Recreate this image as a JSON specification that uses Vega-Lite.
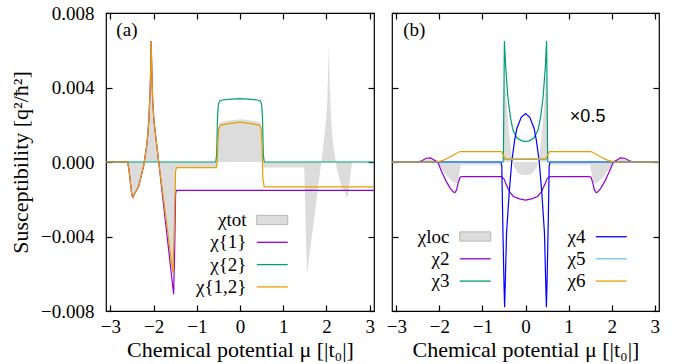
{
  "$schema": "https://vega.github.io/schema/vega-lite/v6.json",
  "autosize": {"type": "none"},
  "padding": {"left": 106, "top": 13, "right": 573, "bottom": 351},
  "spacing": 18,
  "bounds": "flush",
  "background": "white",
  "datasets": {
    "a_tot": [
      {"x": -3.1, "y": 0}, {"x": -2.6, "y": 0}, {"x": -2.57, "y": -0.0004}, {"x": -2.53, "y": -0.0012}, {"x": -2.5, "y": -0.0018}, {"x": -2.475, "y": -0.0019},
      {"x": -2.44, "y": -0.0017}, {"x": -2.39, "y": -0.0015}, {"x": -2.344, "y": -0.0013}, {"x": -2.29, "y": -0.0008}, {"x": -2.228, "y": -0.0002}, {"x": -2.19, "y": 0.0004},
      {"x": -2.151, "y": 0.001}, {"x": -2.125, "y": 0.0017}, {"x": -2.105, "y": 0.00245}, {"x": -2.085, "y": 0.0035}, {"x": -2.074, "y": 0.0042}, {"x": -2.065, "y": 0.0052},
      {"x": -2.057, "y": 0.0065}, {"x": -2.04, "y": 0.005}, {"x": -2.02, "y": 0.0033}, {"x": -1.99, "y": 0.0022}, {"x": -1.958, "y": 0.00155}, {"x": -1.88, "y": 0},
      {"x": -1.8, "y": -0.0015}, {"x": -1.7, "y": -0.0033}, {"x": -1.6, "y": -0.0051}, {"x": -1.55, "y": -0.006}, {"x": -1.52, "y": -0.0035}, {"x": -1.49, "y": -0.0005},
      {"x": -1.47, "y": -0.0003}, {"x": -0.55, "y": -0.0003}, {"x": -0.53, "y": 0}, {"x": -0.51, "y": 0.0013}, {"x": -0.49, "y": 0.002}, {"x": -0.45, "y": 0.00215},
      {"x": -0.3, "y": 0.00222}, {"x": 0, "y": 0.0023}, {"x": 0.3, "y": 0.00222}, {"x": 0.45, "y": 0.00215}, {"x": 0.49, "y": 0.002}, {"x": 0.51, "y": 0.0013},
      {"x": 0.53, "y": 0}, {"x": 0.55, "y": -0.0003}, {"x": 1.47, "y": -0.0003}, {"x": 1.49, "y": -0.0005}, {"x": 1.52, "y": -0.0035}, {"x": 1.55, "y": -0.006},
      {"x": 1.6, "y": -0.0051}, {"x": 1.7, "y": -0.0033}, {"x": 1.8, "y": -0.0015}, {"x": 1.88, "y": 0}, {"x": 1.958, "y": 0.00155}, {"x": 1.99, "y": 0.0022},
      {"x": 2.02, "y": 0.0033}, {"x": 2.04, "y": 0.005}, {"x": 2.057, "y": 0.0065}, {"x": 2.065, "y": 0.0052}, {"x": 2.074, "y": 0.0042}, {"x": 2.085, "y": 0.0035},
      {"x": 2.105, "y": 0.00245}, {"x": 2.125, "y": 0.0017}, {"x": 2.151, "y": 0.001}, {"x": 2.19, "y": 0.0004}, {"x": 2.228, "y": -0.0002}, {"x": 2.29, "y": -0.0008},
      {"x": 2.344, "y": -0.0013}, {"x": 2.39, "y": -0.0015}, {"x": 2.44, "y": -0.0017}, {"x": 2.475, "y": -0.0019}, {"x": 2.5, "y": -0.0018}, {"x": 2.53, "y": -0.0012},
      {"x": 2.57, "y": -0.0004}, {"x": 2.6, "y": 0}, {"x": 3.1, "y": 0}
    ],
    "a_lines": [
      {"series": "χ{1}", "x": -3.1, "y": 0}, {"series": "χ{1}", "x": -2.6, "y": 0}, {"series": "χ{1}", "x": -2.57, "y": -0.0004}, {"series": "χ{1}", "x": -2.53, "y": -0.0012},
      {"series": "χ{1}", "x": -2.5, "y": -0.0018}, {"series": "χ{1}", "x": -2.475, "y": -0.0019}, {"series": "χ{1}", "x": -2.44, "y": -0.0017}, {"series": "χ{1}", "x": -2.39, "y": -0.0015},
      {"series": "χ{1}", "x": -2.344, "y": -0.0013}, {"series": "χ{1}", "x": -2.29, "y": -0.0008}, {"series": "χ{1}", "x": -2.228, "y": -0.0002}, {"series": "χ{1}", "x": -2.19, "y": 0.0004},
      {"series": "χ{1}", "x": -2.151, "y": 0.001}, {"series": "χ{1}", "x": -2.125, "y": 0.0017}, {"series": "χ{1}", "x": -2.105, "y": 0.00245}, {"series": "χ{1}", "x": -2.085, "y": 0.0035},
      {"series": "χ{1}", "x": -2.074, "y": 0.0042}, {"series": "χ{1}", "x": -2.065, "y": 0.0052}, {"series": "χ{1}", "x": -2.057, "y": 0.0065}, {"series": "χ{1}", "x": -2.04, "y": 0.005},
      {"series": "χ{1}", "x": -2.02, "y": 0.0033}, {"series": "χ{1}", "x": -1.99, "y": 0.0022}, {"series": "χ{1}", "x": -1.958, "y": 0.00155}, {"series": "χ{1}", "x": -1.88, "y": 0},
      {"series": "χ{1}", "x": -1.8, "y": -0.00165}, {"series": "χ{1}", "x": -1.7, "y": -0.0037}, {"series": "χ{1}", "x": -1.6, "y": -0.00576}, {"series": "χ{1}", "x": -1.535, "y": -0.0071},
      {"series": "χ{1}", "x": -1.51, "y": -0.0045}, {"series": "χ{1}", "x": -1.49, "y": -0.0017}, {"series": "χ{1}", "x": -1.47, "y": -0.00152}, {"series": "χ{1}", "x": 3.1, "y": -0.00152},
      {"series": "χ{2}", "x": -3.1, "y": 0}, {"series": "χ{2}", "x": -0.56, "y": 0}, {"series": "χ{2}", "x": -0.54, "y": 0.0004}, {"series": "χ{2}", "x": -0.52, "y": 0.0024},
      {"series": "χ{2}", "x": -0.5, "y": 0.0031}, {"series": "χ{2}", "x": -0.47, "y": 0.00328}, {"series": "χ{2}", "x": -0.4, "y": 0.00333}, {"series": "χ{2}", "x": -0.2, "y": 0.00338},
      {"series": "χ{2}", "x": 0, "y": 0.0034}, {"series": "χ{2}", "x": 0.2, "y": 0.00338}, {"series": "χ{2}", "x": 0.4, "y": 0.00333}, {"series": "χ{2}", "x": 0.47, "y": 0.00328},
      {"series": "χ{2}", "x": 0.5, "y": 0.0031}, {"series": "χ{2}", "x": 0.52, "y": 0.0024}, {"series": "χ{2}", "x": 0.54, "y": 0.0004}, {"series": "χ{2}", "x": 0.56, "y": 0},
      {"series": "χ{2}", "x": 3.1, "y": 0},
      {"series": "χ{1,2}", "x": -3.1, "y": 0}, {"series": "χ{1,2}", "x": -2.6, "y": 0}, {"series": "χ{1,2}", "x": -2.57, "y": -0.0004}, {"series": "χ{1,2}", "x": -2.53, "y": -0.0012},
      {"series": "χ{1,2}", "x": -2.5, "y": -0.0018}, {"series": "χ{1,2}", "x": -2.475, "y": -0.0019}, {"series": "χ{1,2}", "x": -2.44, "y": -0.0017}, {"series": "χ{1,2}", "x": -2.39, "y": -0.0015},
      {"series": "χ{1,2}", "x": -2.344, "y": -0.0013}, {"series": "χ{1,2}", "x": -2.29, "y": -0.0008}, {"series": "χ{1,2}", "x": -2.228, "y": -0.0002}, {"series": "χ{1,2}", "x": -2.19, "y": 0.0004},
      {"series": "χ{1,2}", "x": -2.151, "y": 0.001}, {"series": "χ{1,2}", "x": -2.125, "y": 0.0017}, {"series": "χ{1,2}", "x": -2.105, "y": 0.00245}, {"series": "χ{1,2}", "x": -2.085, "y": 0.0035},
      {"series": "χ{1,2}", "x": -2.074, "y": 0.0042}, {"series": "χ{1,2}", "x": -2.065, "y": 0.0052}, {"series": "χ{1,2}", "x": -2.057, "y": 0.0065}, {"series": "χ{1,2}", "x": -2.04, "y": 0.005},
      {"series": "χ{1,2}", "x": -2.02, "y": 0.0033}, {"series": "χ{1,2}", "x": -1.99, "y": 0.0022}, {"series": "χ{1,2}", "x": -1.958, "y": 0.00155}, {"series": "χ{1,2}", "x": -1.88, "y": 0},
      {"series": "χ{1,2}", "x": -1.8, "y": -0.00144}, {"series": "χ{1,2}", "x": -1.7, "y": -0.00325}, {"series": "χ{1,2}", "x": -1.6, "y": -0.00505}, {"series": "χ{1,2}", "x": -1.55, "y": -0.00595},
      {"series": "χ{1,2}", "x": -1.52, "y": -0.0035}, {"series": "χ{1,2}", "x": -1.49, "y": -0.0005}, {"series": "χ{1,2}", "x": -1.47, "y": -0.0003}, {"series": "χ{1,2}", "x": -0.55, "y": -0.0003},
      {"series": "χ{1,2}", "x": -0.53, "y": -0.0001}, {"series": "χ{1,2}", "x": -0.51, "y": 0.0011}, {"series": "χ{1,2}", "x": -0.49, "y": 0.0018}, {"series": "χ{1,2}", "x": -0.45, "y": 0.00198},
      {"series": "χ{1,2}", "x": -0.3, "y": 0.00205}, {"series": "χ{1,2}", "x": 0, "y": 0.00214}, {"series": "χ{1,2}", "x": 0.3, "y": 0.00205}, {"series": "χ{1,2}", "x": 0.45, "y": 0.00198},
      {"series": "χ{1,2}", "x": 0.49, "y": 0.0018}, {"series": "χ{1,2}", "x": 0.51, "y": 0.0008}, {"series": "χ{1,2}", "x": 0.53, "y": -0.0009}, {"series": "χ{1,2}", "x": 0.56, "y": -0.00134},
      {"series": "χ{1,2}", "x": 3.1, "y": -0.00134}
    ],
    "b_loc": [
      {"x": -3.1, "y": 0}, {"x": -2.45, "y": 0}, {"x": -2.35, "y": 0.0001}, {"x": -2.25, "y": 0.00016}, {"x": -2.18, "y": 0.00012}, {"x": -2.1, "y": 0},
      {"x": -2.0, "y": -0.0002}, {"x": -1.9, "y": -0.0005}, {"x": -1.8, "y": -0.0008}, {"x": -1.7, "y": -0.00105}, {"x": -1.62, "y": -0.00115}, {"x": -1.57, "y": -0.0011},
      {"x": -1.53, "y": -0.0005}, {"x": -1.5, "y": -0.00015}, {"x": -0.55, "y": -0.00015}, {"x": -0.52, "y": 0.0008}, {"x": -0.5, "y": 0.0035}, {"x": -0.485, "y": 0.0046},
      {"x": -0.46, "y": 0.0038}, {"x": -0.42, "y": 0.0026}, {"x": -0.37, "y": 0.0013}, {"x": -0.32, "y": 0.0003}, {"x": -0.27, "y": -0.0002}, {"x": -0.2, "y": -0.0005},
      {"x": -0.1, "y": -0.00068}, {"x": 0, "y": -0.0007}, {"x": 0.1, "y": -0.00068}, {"x": 0.2, "y": -0.0005}, {"x": 0.27, "y": -0.0002}, {"x": 0.32, "y": 0.0003},
      {"x": 0.37, "y": 0.0013}, {"x": 0.42, "y": 0.0026}, {"x": 0.46, "y": 0.0038}, {"x": 0.485, "y": 0.0046}, {"x": 0.5, "y": 0.0035}, {"x": 0.52, "y": 0.0008},
      {"x": 0.55, "y": -0.00015}, {"x": 1.5, "y": -0.00015}, {"x": 1.53, "y": -0.0005}, {"x": 1.57, "y": -0.0011}, {"x": 1.62, "y": -0.00115}, {"x": 1.7, "y": -0.00105},
      {"x": 1.8, "y": -0.0008}, {"x": 1.9, "y": -0.0005}, {"x": 2.0, "y": -0.0002}, {"x": 2.1, "y": 0}, {"x": 2.18, "y": 0.00012}, {"x": 2.25, "y": 0.00016},
      {"x": 2.35, "y": 0.0001}, {"x": 2.45, "y": 0}, {"x": 3.1, "y": 0}
    ],
    "b_lines": [
      {"series": "χ2", "x": -3.1, "y": 0}, {"series": "χ2", "x": -2.5, "y": 0}, {"series": "χ2", "x": -2.4, "y": 0.00008}, {"series": "χ2", "x": -2.3, "y": 0.0002},
      {"series": "χ2", "x": -2.2, "y": 0.00022}, {"series": "χ2", "x": -2.12, "y": 0.0001}, {"series": "χ2", "x": -2.04, "y": 0}, {"series": "χ2", "x": -1.95, "y": -0.0005},
      {"series": "χ2", "x": -1.85, "y": -0.001}, {"series": "χ2", "x": -1.75, "y": -0.0014}, {"series": "χ2", "x": -1.68, "y": -0.0016}, {"series": "χ2", "x": -1.64, "y": -0.00165},
      {"series": "χ2", "x": -1.6, "y": -0.0015}, {"series": "χ2", "x": -1.56, "y": -0.0011}, {"series": "χ2", "x": -1.52, "y": -0.00082}, {"series": "χ2", "x": -1.48, "y": -0.00078},
      {"series": "χ2", "x": -0.56, "y": -0.00078}, {"series": "χ2", "x": -0.5, "y": -0.0009}, {"series": "χ2", "x": -0.45, "y": -0.0012}, {"series": "χ2", "x": -0.37, "y": -0.0016},
      {"series": "χ2", "x": -0.28, "y": -0.00185}, {"series": "χ2", "x": -0.14, "y": -0.00198}, {"series": "χ2", "x": 0, "y": -0.00205}, {"series": "χ2", "x": 0.14, "y": -0.00198},
      {"series": "χ2", "x": 0.28, "y": -0.00185}, {"series": "χ2", "x": 0.37, "y": -0.0016}, {"series": "χ2", "x": 0.45, "y": -0.0012}, {"series": "χ2", "x": 0.5, "y": -0.0009},
      {"series": "χ2", "x": 0.56, "y": -0.00078}, {"series": "χ2", "x": 1.48, "y": -0.00078}, {"series": "χ2", "x": 1.52, "y": -0.00082}, {"series": "χ2", "x": 1.56, "y": -0.0011},
      {"series": "χ2", "x": 1.6, "y": -0.0015}, {"series": "χ2", "x": 1.64, "y": -0.00165}, {"series": "χ2", "x": 1.68, "y": -0.0016}, {"series": "χ2", "x": 1.75, "y": -0.0014},
      {"series": "χ2", "x": 1.85, "y": -0.001}, {"series": "χ2", "x": 1.95, "y": -0.0005}, {"series": "χ2", "x": 2.04, "y": 0}, {"series": "χ2", "x": 2.12, "y": 0.0001},
      {"series": "χ2", "x": 2.2, "y": 0.00022}, {"series": "χ2", "x": 2.3, "y": 0.0002}, {"series": "χ2", "x": 2.4, "y": 0.00008}, {"series": "χ2", "x": 2.5, "y": 0},
      {"series": "χ2", "x": 3.1, "y": 0},
      {"series": "χ3", "x": -3.1, "y": 0}, {"series": "χ3", "x": -0.515, "y": 0}, {"series": "χ3", "x": -0.49, "y": 0.0065}, {"series": "χ3", "x": -0.46, "y": 0.0051},
      {"series": "χ3", "x": -0.41, "y": 0.0035}, {"series": "χ3", "x": -0.35, "y": 0.0024}, {"series": "χ3", "x": -0.29, "y": 0.0017}, {"series": "χ3", "x": -0.2, "y": 0.0013},
      {"series": "χ3", "x": -0.1, "y": 0.00115}, {"series": "χ3", "x": 0, "y": 0.0011}, {"series": "χ3", "x": 0.1, "y": 0.00115}, {"series": "χ3", "x": 0.2, "y": 0.0013},
      {"series": "χ3", "x": 0.29, "y": 0.0017}, {"series": "χ3", "x": 0.35, "y": 0.0024}, {"series": "χ3", "x": 0.41, "y": 0.0035}, {"series": "χ3", "x": 0.46, "y": 0.0051},
      {"series": "χ3", "x": 0.49, "y": 0.0065}, {"series": "χ3", "x": 0.515, "y": 0}, {"series": "χ3", "x": 3.1, "y": 0},
      {"series": "χ4", "x": -3.1, "y": 0}, {"series": "χ4", "x": -0.57, "y": 0}, {"series": "χ4", "x": -0.55, "y": -0.0002}, {"series": "χ4", "x": -0.53, "y": -0.003},
      {"series": "χ4", "x": -0.5, "y": -0.0065}, {"series": "χ4", "x": -0.485, "y": -0.0078}, {"series": "χ4", "x": -0.47, "y": -0.0065}, {"series": "χ4", "x": -0.44, "y": -0.0038},
      {"series": "χ4", "x": -0.38, "y": -0.0017}, {"series": "χ4", "x": -0.32, "y": 0}, {"series": "χ4", "x": -0.25, "y": 0.0012}, {"series": "χ4", "x": -0.2, "y": 0.0018},
      {"series": "χ4", "x": -0.1, "y": 0.0024}, {"series": "χ4", "x": 0, "y": 0.0026}, {"series": "χ4", "x": 0.1, "y": 0.0024}, {"series": "χ4", "x": 0.2, "y": 0.0018},
      {"series": "χ4", "x": 0.25, "y": 0.0012}, {"series": "χ4", "x": 0.32, "y": 0}, {"series": "χ4", "x": 0.38, "y": -0.0017}, {"series": "χ4", "x": 0.44, "y": -0.0038},
      {"series": "χ4", "x": 0.47, "y": -0.0065}, {"series": "χ4", "x": 0.485, "y": -0.0078}, {"series": "χ4", "x": 0.5, "y": -0.0065}, {"series": "χ4", "x": 0.53, "y": -0.003},
      {"series": "χ4", "x": 0.55, "y": -0.0002}, {"series": "χ4", "x": 0.57, "y": 0}, {"series": "χ4", "x": 3.1, "y": 0},
      {"series": "χ5", "x": -3.1, "y": 0}, {"series": "χ5", "x": -0.55, "y": 0}, {"series": "χ5", "x": -0.5, "y": 0.00012}, {"series": "χ5", "x": -0.45, "y": 0.00017},
      {"series": "χ5", "x": 0.45, "y": 0.00017}, {"series": "χ5", "x": 0.5, "y": 0.00012}, {"series": "χ5", "x": 0.55, "y": 0}, {"series": "χ5", "x": 3.1, "y": 0},
      {"series": "χ6", "x": -3.1, "y": 0}, {"series": "χ6", "x": -2.1, "y": 0}, {"series": "χ6", "x": -2.0, "y": 0.00003}, {"series": "χ6", "x": -1.9, "y": 0.0001},
      {"series": "χ6", "x": -1.8, "y": 0.00021}, {"series": "χ6", "x": -1.7, "y": 0.00034}, {"series": "χ6", "x": -1.6, "y": 0.00047}, {"series": "χ6", "x": -1.53, "y": 0.00055},
      {"series": "χ6", "x": -1.5, "y": 0.00056}, {"series": "χ6", "x": -0.56, "y": 0.00056}, {"series": "χ6", "x": -0.52, "y": 0.0004}, {"series": "χ6", "x": -0.48, "y": 0.0002},
      {"series": "χ6", "x": -0.45, "y": 0.00014}, {"series": "χ6", "x": 0.45, "y": 0.00014}, {"series": "χ6", "x": 0.48, "y": 0.0002}, {"series": "χ6", "x": 0.52, "y": 0.0004},
      {"series": "χ6", "x": 0.56, "y": 0.00056}, {"series": "χ6", "x": 1.5, "y": 0.00056}, {"series": "χ6", "x": 1.53, "y": 0.00055}, {"series": "χ6", "x": 1.6, "y": 0.00047},
      {"series": "χ6", "x": 1.7, "y": 0.00034}, {"series": "χ6", "x": 1.8, "y": 0.00021}, {"series": "χ6", "x": 1.9, "y": 0.0001}, {"series": "χ6", "x": 2.0, "y": 0.00003},
      {"series": "χ6", "x": 2.1, "y": 0}, {"series": "χ6", "x": 3.1, "y": 0}
    ]
  },
  "hconcat": [
    {
      "width": 268,
      "height": 298,
      "layer": [
        {
          "data": {"name": "a_tot"},
          "mark": {"type": "area", "strokeWidth": 0},
          "encoding": {
            "x": {"field": "x", "type": "quantitative", "scale": {"domain": [-3.1, 3.1], "nice": false, "zero": false},
                  "axis": {"orient": "bottom", "values": [-3, -2, -1, 0, 1, 2, 3], "format": "d", "title": "Chemical potential μ [|t₀|]", "labelPadding": 12, "titlePadding": 3}},
            "y": {"field": "y", "type": "quantitative", "stack": null, "scale": {"domain": [-0.008, 0.008], "nice": false},
                  "axis": {"orient": "left", "values": [-0.008, -0.004, 0, 0.004, 0.008], "format": ".3f", "title": "Susceptibility [q²/ħ²]", "labelPadding": 18, "titlePadding": 8}},
            "fill": {"datum": "χtot", "type": "nominal", "scale": {"range": ["#dcdcdc"]},
                     "legend": {"title": null, "orient": "none", "legendX": 156.75, "legendY": 197.5,
                                "labelAlign": "right", "labelOffset": -35.25, "symbolSize": 240, "symbolType": "M-2,-0.6H2V0.6H-2Z",
                                "symbolStrokeColor": "#b8b8b8", "symbolStrokeWidth": 1,
                                "labelFont": "Liberation Serif", "labelFontSize": 19, "labelColor": "#000"}}
          }
        },
        {
          "data": {"name": "a_lines"},
          "mark": {"type": "line", "strokeWidth": 1.2},
          "encoding": {
            "x": {"field": "x", "type": "quantitative", "scale": {"domain": [-3.1, 3.1], "nice": false, "zero": false},
                  "axis": {"orient": "top", "values": [-3, -2, -1, 0, 1, 2, 3], "labels": false, "title": null}},
            "y": {"field": "y", "type": "quantitative", "scale": {"domain": [-0.008, 0.008], "nice": false},
                  "axis": {"orient": "right", "values": [-0.008, -0.004, 0, 0.004, 0.008], "labels": false, "title": null}},
            "stroke": {"field": "series", "type": "nominal",
                       "scale": {"domain": [" ", "χ{1}", "χ{2}", "χ{1,2}"], "range": ["transparent", "#9400d3", "#009e73", "#e69f00"]},
                       "legend": {"title": null, "orient": "none", "legendX": 156.75, "legendY": 197.5,
                                  "labelAlign": "right", "labelOffset": -35.25, "symbolSize": 240, "symbolStrokeWidth": 1.3, "symbolType": "M-2,0H2",
                                  "rowPadding": 2.3, "labelFont": "Liberation Serif", "labelFontSize": 19, "labelColor": "#000"}}
          }
        },
        {
          "data": {"values": [{"t": "(a)"}]},
          "mark": {"type": "text", "align": "left", "baseline": "middle", "font": "Liberation Serif", "fontSize": 19, "color": "#000"},
          "encoding": {
            "x": {"datum": -2.86, "type": "quantitative", "axis": null},
            "y": {"datum": 0.0071, "type": "quantitative", "axis": null},
            "text": {"field": "t"}
          }
        }
      ],
      "resolve": {"axis": {"x": "independent", "y": "independent"}}
    },
    {
      "width": 267,
      "height": 298,
      "layer": [
        {
          "data": {"name": "b_loc"},
          "mark": {"type": "area", "strokeWidth": 0},
          "encoding": {
            "x": {"field": "x", "type": "quantitative", "scale": {"domain": [-3.1, 3.1], "nice": false, "zero": false},
                  "axis": {"orient": "bottom", "values": [-3, -2, -1, 0, 1, 2, 3], "format": "d", "title": "Chemical potential μ [|t₀|]", "labelPadding": 12, "titlePadding": 3}},
            "y": {"field": "y", "type": "quantitative", "stack": null, "scale": {"domain": [-0.008, 0.008], "nice": false},
                  "axis": {"orient": "left", "values": [-0.008, -0.004, 0, 0.004, 0.008], "labels": false, "title": null}},
            "fill": {"datum": "χloc", "type": "nominal", "scale": {"range": ["#dcdcdc"]},
                     "legend": {"title": null, "orient": "none", "legendX": 73.75, "legendY": 214,
                                "labelAlign": "right", "labelOffset": -35.25, "symbolSize": 240, "symbolType": "M-2,-0.6H2V0.6H-2Z",
                                "symbolStrokeColor": "#b8b8b8", "symbolStrokeWidth": 1,
                                "labelFont": "Liberation Serif", "labelFontSize": 19, "labelColor": "#000"}}
          }
        },
        {
          "data": {"name": "b_lines"},
          "mark": {"type": "line", "strokeWidth": 1.2},
          "encoding": {
            "x": {"field": "x", "type": "quantitative", "scale": {"domain": [-3.1, 3.1], "nice": false, "zero": false},
                  "axis": {"orient": "top", "values": [-3, -2, -1, 0, 1, 2, 3], "labels": false, "title": null}},
            "y": {"field": "y", "type": "quantitative", "scale": {"domain": [-0.008, 0.008], "nice": false},
                  "axis": {"orient": "right", "values": [-0.008, -0.004, 0, 0.004, 0.008], "labels": false, "title": null}},
            "stroke": {"field": "series", "type": "nominal",
                       "scale": {"domain": [" ", "χ2", "χ3", "χ4", "χ5", "χ6"], "range": ["transparent", "#9400d3", "#009e73", "#0000ff", "#6ec1ee", "#e69f00"]},
                       "legend": {"title": null, "orient": "none", "legendX": 73.75, "legendY": 214, "columns": 2, "columnPadding": 73,
                                  "labelAlign": "right", "labelOffset": -35.25, "symbolSize": 240, "symbolStrokeWidth": 1.3, "symbolType": "M-2,0H2",
                                  "rowPadding": 2.3, "labelFont": "Liberation Serif", "labelFontSize": 19, "labelColor": "#000"}}
          }
        },
        {
          "data": {"values": [{"t": "(b)"}]},
          "mark": {"type": "text", "align": "left", "baseline": "middle", "font": "Liberation Serif", "fontSize": 19, "color": "#000"},
          "encoding": {
            "x": {"datum": -2.84, "type": "quantitative", "axis": null},
            "y": {"datum": 0.0071, "type": "quantitative", "axis": null},
            "text": {"field": "t"}
          }
        },
        {
          "data": {"values": [{"t": "×0.5"}]},
          "mark": {"type": "text", "align": "left", "baseline": "middle", "font": "Liberation Sans", "fontSize": 18, "color": "#000"},
          "encoding": {
            "x": {"datum": 1.03, "type": "quantitative", "axis": null},
            "y": {"datum": 0.0024, "type": "quantitative", "axis": null},
            "text": {"field": "t"}
          }
        }
      ],
      "resolve": {"axis": {"x": "independent", "y": "independent"}}
    }
  ],
  "resolve": {"scale": {"stroke": "independent", "fill": "independent"}, "legend": {"stroke": "independent", "fill": "independent"}},
  "config": {
    "view": {"stroke": "#000", "strokeWidth": 1.2},
    "axis": {"grid": false, "domain": false, "ticks": true, "tickSize": -6, "tickWidth": 1.2, "tickColor": "#000",
             "labelFont": "Liberation Serif", "labelFontSize": 19, "labelColor": "#000",
             "titleFont": "Liberation Serif", "titleFontSize": 22, "titleFontWeight": "normal", "titleColor": "#000"},
    "legend": {"labelLimit": 200}
  }
}
